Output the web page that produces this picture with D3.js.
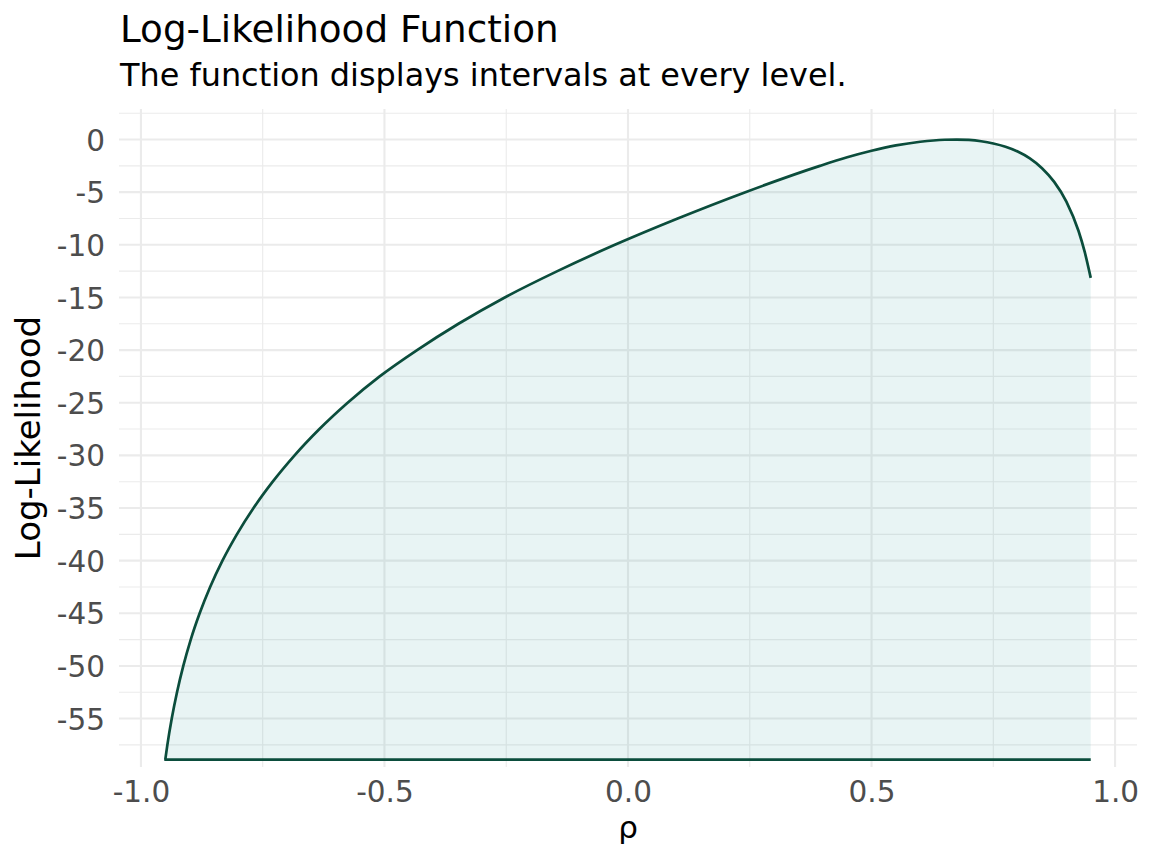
<!DOCTYPE html>
<html>
<head>
<meta charset="utf-8">
<script src="https://cdnjs.cloudflare.com/ajax/libs/d3/7.8.5/d3.min.js"></script>
<style>
    body { margin: 0; background: #ffffff; }
    text { font-family: 'DejaVu Sans', sans-serif; }
</style>
</head>
<body>
<div id="chart"></div>
<script>
// Values (where the curve crosses the grid, plus the top)
var rho = [-0.950, -0.9457, -0.9367, -0.9259, -0.9130, -0.8977, -0.8794, -0.8579, -0.8326, -0.8030,
    -0.7688, -0.7294, -0.6845, -0.6335, -0.5756, -0.5098, -0.433, -0.348, -0.253, -0.145,
    -0.027, 0.102, 0.241, 0.394, 0.45, 0.50, 0.55, 0.60, 0.65, 0.675,
    0.70, 0.725, 0.75, 0.775, 0.80, 0.825, 0.85, 0.875, 0.90, 0.925,
    0.9375, 0.95];
var logLik = [-58.9, -57.5, -55.0, -52.5, -50.0, -47.5, -45.0, -42.5, -40.0, -37.5,
    -35.0, -32.5, -30.0, -27.5, -25.0, -22.5, -20.0, -17.5, -15.0, -12.5,
    -10.0, -7.5, -5.0, -2.5, -1.69, -1.07, -0.56, -0.21, -0.02, 0.0,
    -0.04, -0.165, -0.38, -0.69, -1.14, -1.79, -2.72, -4.02, -5.89, -8.69,
    -10.65, -13.14];
var areaBottom = -58.9;

var xTicks = [-1.0, -0.5, 0.0, 0.5, 1.0];
var xMinor = [-0.75, -0.25, 0.25, 0.75];
var yTicks = [-55, -50, -45, -40, -35, -30, -25, -20, -15, -10, -5, 0];
var yMinor = [-57.5, -52.5, -47.5, -42.5, -37.5, -32.5, -27.5, -22.5, -17.5, -12.5, -7.5, -2.5, 2.5];

var titleText = 'Log-Likelihood Function';
var subtitleText = 'The function displays intervals at every level.';

// Set up the svg area
var svgWidth = 1152;
var svgHeight = 864;

var svg = d3.select('#chart')
    .append('svg')
    .attr('width', svgWidth)
    .attr('height', svgHeight);

var panel = { left: 119, right: 1137, top: 109, bottom: 767 };

var xScale = d3.scaleLinear()
    .domain([-1.045, 1.045])
    .range([panel.left, panel.right]);

var yScale = d3.scaleLinear()
    .domain([-59.6, 2.9])
    .range([panel.bottom, panel.top]);

// Grid lines: minor first, then major
function drawGrid(values, horizontal, width) {
    svg.append('g')
        .selectAll('line')
        .data(values)
        .enter()
        .append('line')
        .attr('x1', (d) => horizontal ? panel.left : xScale(d))
        .attr('x2', (d) => horizontal ? panel.right : xScale(d))
        .attr('y1', (d) => horizontal ? yScale(d) : panel.top)
        .attr('y2', (d) => horizontal ? yScale(d) : panel.bottom)
        .attr('stroke', '#ebebeb')
        .attr('stroke-width', width);
};

drawGrid(yMinor, true, 1.1);
drawGrid(xMinor, false, 1.1);
drawGrid(yTicks, true, 2.1);
drawGrid(xTicks, false, 2.1);

// Area and outline
var points = rho.map((r, i) => ({ x: r, y: logLik[i] }));

var area = d3.area()
    .x((d) => xScale(d.x))
    .y0(yScale(areaBottom))
    .y1((d) => yScale(d.y))
    .curve(d3.curveMonotoneX);

svg.append('path')
    .datum(points)
    .attr('d', area)
    .attr('fill', '#199190')
    .attr('fill-opacity', 0.1);

var line = d3.line()
    .x((d) => xScale(d.x))
    .y((d) => yScale(d.y))
    .curve(d3.curveMonotoneX);

// bottom edge first, then up the curve (no right-hand edge)
var xEnd = rho[rho.length - 1];
svg.append('path')
    .attr('d', `M${xScale(xEnd)},${yScale(areaBottom)}H${xScale(rho[0])}` + line(points).replace(/^M/, 'L'))
    .attr('fill', 'none')
    .attr('stroke', '#0b4d3c')
    .attr('stroke-width', 2.7)
    .attr('stroke-linejoin', 'round');

// Axes (labels only, like theme_minimal), plain hyphen for negatives
var fmtX = (d) => d3.format('.1f')(d).replace('\u2212', '-');
var fmtY = (d) => d3.format('d')(d).replace('\u2212', '-');

var bottomAxis = d3.axisBottom(xScale)
    .tickValues(xTicks)
    .tickFormat(fmtX)
    .tickSize(0)
    .tickPadding(0);

var xAxis = svg.append('g')
    .attr('transform', `translate(0, ${panel.bottom})`)
    .call(bottomAxis);

var leftAxis = d3.axisLeft(yScale)
    .tickValues(yTicks)
    .tickFormat(fmtY)
    .tickSize(0)
    .tickPadding(0);

var yAxis = svg.append('g')
    .attr('transform', `translate(${panel.left - 14}, 0)`)
    .call(leftAxis);

svg.selectAll('.domain').remove();

xAxis.selectAll('text')
    .attr('y', 35)
    .attr('dy', 0)
    .attr('fill', '#4d4d4d')
    .style('font-size', '29.5px');

yAxis.selectAll('text')
    .attr('dy', '0.36em')
    .attr('fill', '#4d4d4d')
    .style('font-size', '29.5px');

// Titles
svg.append('text')
    .attr('x', 120)
    .attr('y', 42)
    .attr('fill', '#000000')
    .style('font-size', '37.3px')
    .text(titleText);

svg.append('text')
    .attr('x', 120)
    .attr('y', 86)
    .attr('fill', '#000000')
    .style('font-size', '31.9px')
    .text(subtitleText);

svg.append('text')
    .attr('x', (panel.left + panel.right) / 2)
    .attr('y', 838)
    .attr('text-anchor', 'middle')
    .attr('fill', '#000000')
    .style('font-size', '31px')
    .text('ρ');

svg.append('text')
    .attr('transform', `translate(40, ${(panel.top + panel.bottom) / 2}) rotate(-90)`)
    .attr('text-anchor', 'middle')
    .attr('fill', '#000000')
    .style('font-size', '34px')
    .text('Log-Likelihood');
</script>
</body>
</html>
